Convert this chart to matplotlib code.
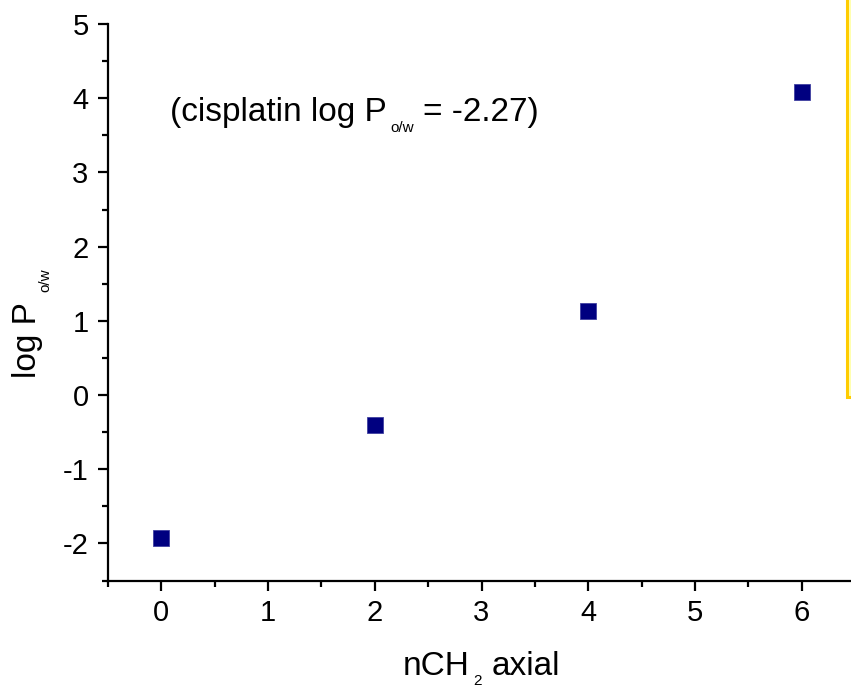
import matplotlib.pyplot as plt
from matplotlib.patches import Rectangle
from matplotlib.transforms import IdentityTransform

plt.rcParams['font.family'] = ['Liberation Sans', 'DejaVu Sans']
plt.rcParams['axes.unicode_minus'] = False

# Data
n_ch2 = [0, 2, 4, 6]
log_p = [-1.93, -0.40, 1.13, 4.08]

W, H = 851, 689
fig = plt.figure(figsize=(W / 100, H / 100), dpi=100)
# axes spans x -0.5..6.5 (right part runs off the image)
ax = fig.add_axes([108 / W, 1 - 580.5 / H, 747 / W, 556.5 / H])

ax.plot(n_ch2, log_p, 's', color='#000080', markersize=11.5,
        markeredgewidth=0.6, markeredgecolor='#4040a0')

ax.set_xlim(-0.5, 6.5)
ax.set_ylim(-2.5, 5)
ax.set_xticks(range(0, 7))
ax.set_yticks(range(-2, 6))
ax.set_xticks([x + 0.5 for x in range(-1, 7)], minor=True)
ax.set_yticks([y + 0.5 for y in range(-3, 5)], minor=True)

for s in ['top', 'right']:
    ax.spines[s].set_visible(False)
for s in ['left', 'bottom']:
    ax.spines[s].set_linewidth(1.6)

ax.tick_params(which='major', direction='out', length=7, width=1.6,
               labelsize=21, pad=7)
ax.tick_params(which='minor', direction='out', length=4, width=1.6)
ax.tick_params(axis='x', which='major', pad=6)

renderer = fig.canvas.get_renderer()


def rich_text(x, y, parts, vertical=False):
    # parts: (text, fontsize, drop_px, gap_px before piece); x, y in px from top-left
    pos = 0.0
    for txt, size, drop, gap in parts:
        pos += gap
        if vertical:
            px, py = x + drop, H - (y - pos)
        else:
            px, py = x + pos, H - (y + drop)
        t = fig.text(px, py, txt, fontsize=size, transform=IdentityTransform(),
                     ha='left', va='baseline', rotation=90 if vertical else 0,
                     rotation_mode='anchor')
        bb = t.get_window_extent(renderer)
        pos += bb.height if vertical else bb.width


# note inside the plot
rich_text(170, 121, [('(cisplatin log P', 24, 0, 0),
                     ('o/w', 11, 10.5, 4),
                     ('= -2.27)', 24, 0, 9)])
# x axis title
rich_text(403, 675, [('nCH', 24, 0, 0), ('2', 11, 10, 3),
                     ('axial', 24, 0, 10)])
# y axis title
rich_text(36, 378, [('log P', 24, 0, 0), ('o/w', 11, 13, 10)],
          vertical=True)

# cut-off yellow box at right edge
fig.patches.append(Rectangle((847 / W, 1 - 397 / H), 20 / W, 400 / H,
                             transform=fig.transFigure, facecolor='#FFFFB0',
                             edgecolor='#FFCC00', linewidth=2.2,
                             clip_on=False))

fig.savefig('out.png', dpi=100)
